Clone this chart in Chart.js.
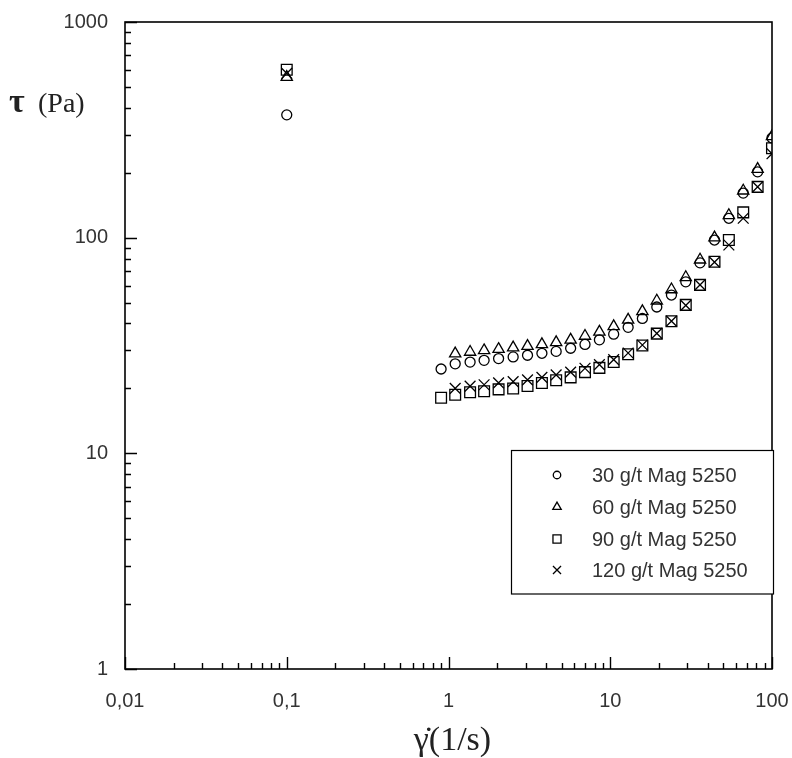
<!DOCTYPE html>
<html><head><meta charset="utf-8">
<script src="https://cdn.jsdelivr.net/npm/chart.js@4.4.1/dist/chart.umd.min.js"></script>
<style>html,body{margin:0;padding:0;background:#fff}#wrap{width:792px;height:758px}</style>
</head><body><div id="wrap"><canvas id="c" width="792" height="758"></canvas></div>
<script>
// Shear rate (1/s)
const shearRate = [0.1, 0.9, 1.1, 1.36, 1.66, 2.04, 2.51, 3.08, 3.78, 4.63, 5.69, 6.98, 8.57, 10.5, 12.9, 15.8, 19.4, 23.9, 29.3, 35.9, 44.1, 54.1, 66.4, 81.5, 100];
// Shear stress (Pa)
const tau30  = [371, 24.6, 26.0, 26.5, 27.0, 27.5, 28.0, 28.5, 29.1, 29.7, 30.7, 32.0, 33.6, 35.7, 38.4, 42.2, 47.7, 54.2, 62.4, 76.4, 97.5, 123, 161, 202, 290];
const tau60  = [555, null, 29.0, 29.5, 30.0, 30.4, 30.9, 31.4, 32.0, 32.7, 33.6, 35.0, 36.6, 38.8, 41.6, 45.5, 51.0, 57.5, 65.5, 79, 100, 127, 165, 208, 295];
const tau90  = [600, 18.1, 18.7, 19.2, 19.4, 19.8, 20.0, 20.5, 21.2, 21.8, 22.5, 23.8, 24.9, 26.5, 28.8, 31.6, 35.9, 41.0, 48.8, 60.4, 77.4, 97.5, 131, 172, 260];
const tau120 = [578, null, 20.0, 20.5, 20.8, 21.2, 21.5, 21.9, 22.5, 23.1, 23.8, 24.8, 25.8, 27.2, 29.2, 31.8, 36.0, 41.0, 48.5, 60.4, 77, 92.5, 123, 172, 245];
const seriesLabels = ['30 g/t Mag 5250', '60 g/t Mag 5250', '90 g/t Mag 5250', '120 g/t Mag 5250'];
const xMajor = [0.01, 0.1, 1, 10, 100];
const xTickLabels = ['0,01', '0,1', '1', '10', '100'];
const yMajor = [1, 10, 100, 1000];
const yTickLabels = ['1', '10', '100', '1000'];
const xTitle = 'γ\u0307(1/s)';
const yTitleSym = 'τ';
const yTitleUnit = '(Pa)';

function pts(arr) {
  const out = [];
  arr.forEach((v, i) => { if (v !== null) out.push({x: shearRate[i], y: v}); });
  return out;
}
const styles = [
  {pointStyle: 'circle', radius: 5},
  {pointStyle: 'triangle', radius: 6.5},
  {pointStyle: 'rect', radius: 7.6},
  {pointStyle: 'crossRot', radius: 7.6}
];
const seriesData = [tau30, tau60, tau90, tau120];
const datasets = seriesData.map((arr, k) => ({
  label: seriesLabels[k],
  data: pts(arr),
  showLine: false,
  pointStyle: styles[k].pointStyle,
  pointRadius: styles[k].radius,
  pointHoverRadius: styles[k].radius,
  pointBorderColor: '#000',
  pointBackgroundColor: 'rgba(0,0,0,0)',
  pointBorderWidth: 1.3,
  borderColor: '#000',
  backgroundColor: 'rgba(0,0,0,0)'
}));

const frame = {
  id: 'frame',
  afterDraw(chart) {
    const ctx = chart.ctx;
    const a = chart.chartArea;
    const xs = chart.scales.x, ys = chart.scales.y;
    ctx.save();
    ctx.strokeStyle = '#000';
    ctx.lineWidth = 1.6;
    ctx.strokeRect(a.left, a.top, a.right - a.left, a.bottom - a.top);
    ctx.lineWidth = 1.4;
    ctx.beginPath();
    for (let d = 0; d < xMajor.length; d++) {
      const base = xMajor[d];
      for (let m = 1; m <= 9; m++) {
        const v = base * m;
        if (v > 100 + 1e-9) break;
        const px = Math.round(xs.getPixelForValue(v)) + 0.5;
        const len = m === 1 ? 12 : 6;
        ctx.moveTo(px, a.bottom);
        ctx.lineTo(px, a.bottom - len);
      }
    }
    for (let d = 0; d < yMajor.length; d++) {
      const base = yMajor[d];
      for (let m = 1; m <= 9; m++) {
        const v = base * m;
        if (v > 1000 + 1e-9) break;
        const py = Math.round(ys.getPixelForValue(v)) + 0.5;
        const len = m === 1 ? 12 : 6;
        ctx.moveTo(a.left, py);
        ctx.lineTo(a.left + len, py);
      }
    }
    ctx.stroke();

    // axis titles
    ctx.fillStyle = '#222';
    ctx.textBaseline = 'alphabetic';
    ctx.textAlign = 'left';
    ctx.font = 'bold 34px "Liberation Serif", "DejaVu Serif", serif';
    ctx.fillText(yTitleSym, 9, 112);
    ctx.font = '28px "Liberation Serif", "DejaVu Serif", serif';
    ctx.fillText(yTitleUnit, 38, 112);
    ctx.textAlign = 'center';
    ctx.font = '34px "Liberation Serif", "DejaVu Serif", serif';
    ctx.fillText(xTitle, (a.left + a.right) / 2 + 4, 750);

    // legend
    const lx = 511.5, ly = 450.5, lw = 262, lh = 143.5;
    ctx.fillStyle = '#fff';
    ctx.fillRect(lx, ly, lw, lh);
    ctx.strokeStyle = '#000';
    ctx.lineWidth = 1.2;
    ctx.strokeRect(lx, ly, lw, lh);
    const rows = [475, 507, 539, 570];
    ctx.font = '20px "Liberation Sans", Arial, sans-serif';
    ctx.textAlign = 'left';
    ctx.textBaseline = 'middle';
    chart.data.datasets.forEach((ds, i) => {
      ctx.strokeStyle = '#000';
      ctx.fillStyle = 'rgba(0,0,0,0)';
      ctx.lineWidth = 1.3;
      Chart.helpers.drawPoint(ctx, {pointStyle: ds.pointStyle, radius: ds.pointRadius * 0.75, rotation: 0, borderWidth: 1.3}, 557, rows[i]);
      ctx.fillStyle = '#333';
      ctx.fillText(ds.label, 592, rows[i] + 1);
    });
    ctx.restore();
  }
};

new Chart(document.getElementById('c'), {
  type: 'scatter',
  data: {datasets},
  options: {
    responsive: false,
    animation: false,
    layout: {padding: {left: 0, right: 20, top: 22, bottom: 0}, autoPadding: false},
    plugins: {legend: {display: false}, tooltip: {enabled: false}},
    scales: {
      x: {
        type: 'logarithmic', min: 0.01, max: 100,
        border: {display: false},
        grid: {display: false, drawTicks: false},
        afterBuildTicks: s => { s.ticks = xMajor.map(v => ({value: v, major: true})); },
        afterFit: s => { s.height = 89; s.paddingLeft = 0; s.paddingRight = 0; },
        ticks: {
          autoSkip: false, maxRotation: 0, padding: 20, color: '#333',
          font: {family: '"Liberation Sans", Arial, sans-serif', size: 20},
          callback: (v) => { const i = xMajor.findIndex(m => Math.abs(m - v) / m < 1e-6); return i >= 0 ? xTickLabels[i] : ''; }
        }
      },
      y: {
        type: 'logarithmic', min: 1, max: 1000,
        border: {display: false},
        grid: {display: false, drawTicks: false},
        afterBuildTicks: s => { s.ticks = yMajor.map(v => ({value: v, major: true})); },
        afterFit: s => { s.width = 125; s.paddingTop = 0; s.paddingBottom = 0; },
        ticks: {
          autoSkip: false, padding: 17, color: '#333',
          font: {family: '"Liberation Sans", Arial, sans-serif', size: 20},
          callback: (v) => { const i = yMajor.findIndex(m => Math.abs(m - v) / m < 1e-6); return i >= 0 ? yTickLabels[i] : ''; }
        }
      }
    }
  },
  plugins: [frame]
});
</script>
</body></html>
